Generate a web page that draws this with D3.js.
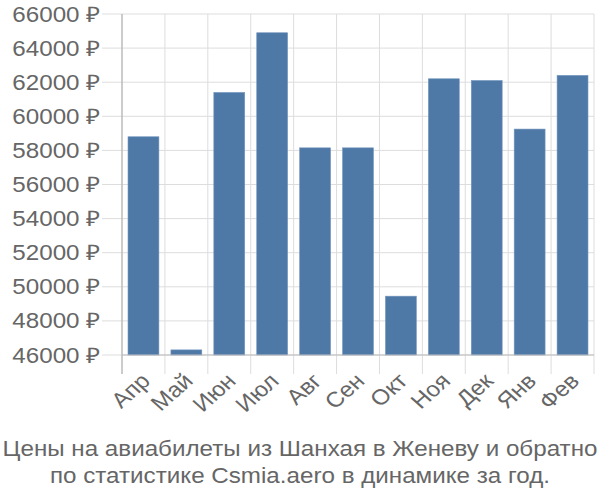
<!DOCTYPE html>
<html><head><meta charset="utf-8">
<script src="https://cdn.jsdelivr.net/npm/d3@7"></script>
<style>body{margin:0;background:#fff}svg{display:block}text{font-family:"Liberation Sans",Arial,sans-serif;fill:#666}</style>
</head><body>
<svg id="c" width="600" height="500"></svg>
<script>
const categories = ["Апр","Май","Июн","Июл","Авг","Сен","Окт","Ноя","Дек","Янв","Фев"];
const values = [58800,46300,61400,64900,58150,58150,49450,62200,62100,59250,62400];
const yTicks = [46000,48000,50000,52000,54000,56000,58000,60000,62000,64000,66000];
const titleLines = ["Цены на авиабилеты из Шанхая в Женеву и обратно","по статистике Csmia.aero в динамике за год."];

const svg = d3.select("#c");
const L = 122, R = 594, T = 14, B = 355;
const SX = 1.125, FS = "21.5px";
const x = d3.scaleBand().domain(categories).range([L, R]).paddingInner(0.28).paddingOuter(0.14);
const y = d3.scaleLinear().domain([46000, 66000]).range([B, T]);
const step = x.step();

// horizontal grid
svg.append("g").selectAll("line").data(yTicks).join("line")
  .attr("x1", L - 20).attr("x2", R).attr("y1", d => y(d)).attr("y2", d => y(d))
  .attr("stroke", "#ddd").attr("stroke-width", 1);
// vertical grid (band boundaries)
const bounds = d3.range(categories.length + 1).map(i => L + i * step);
svg.append("g").selectAll("line").data(bounds).join("line")
  .attr("x1", d => d).attr("x2", d => d).attr("y1", T).attr("y2", B + 19)
  .attr("stroke", "#ddd").attr("stroke-width", 1);

// bars
svg.append("g").selectAll("rect").data(values).join("rect")
  .attr("x", (d, i) => x(categories[i])).attr("width", x.bandwidth())
  .attr("y", d => y(d)).attr("height", d => B - y(d))
  .attr("fill", "#4e79a7").attr("stroke", "#7396bf").attr("stroke-width", 0.6);

// axes lines
svg.append("line").attr("x1", L).attr("x2", L).attr("y1", T).attr("y2", B + 19).attr("stroke", "#aaa");
svg.append("line").attr("x1", L).attr("x2", R).attr("y1", B).attr("y2", B).attr("stroke", "#bbb");

// y labels
svg.append("g").selectAll("text").data(yTicks).join("text")
  .attr("transform", d => `translate(100,${y(d)}) scale(${SX},1)`)
  .attr("dy", "0.35em").attr("text-anchor", "end")
  .style("font-size", FS).text(d => d + " ₽");

// x labels
svg.append("g").selectAll("text").data(categories).join("text")
  .attr("transform", d => `translate(${x(d) + x.bandwidth() / 2 + 2},${B + 22}) scale(${SX},1) rotate(-45)`)
  .attr("text-anchor", "end").attr("dy", "0.35em")
  .style("font-size", FS).text(d => d);

// title
svg.append("g").selectAll("text").data(titleLines).join("text")
  .attr("transform", (d, i) => `translate(300,${456 + i * 27}) scale(${SX},1)`)
  .attr("text-anchor", "middle")
  .style("font-size", FS).text(d => d);
</script>
</body></html>
